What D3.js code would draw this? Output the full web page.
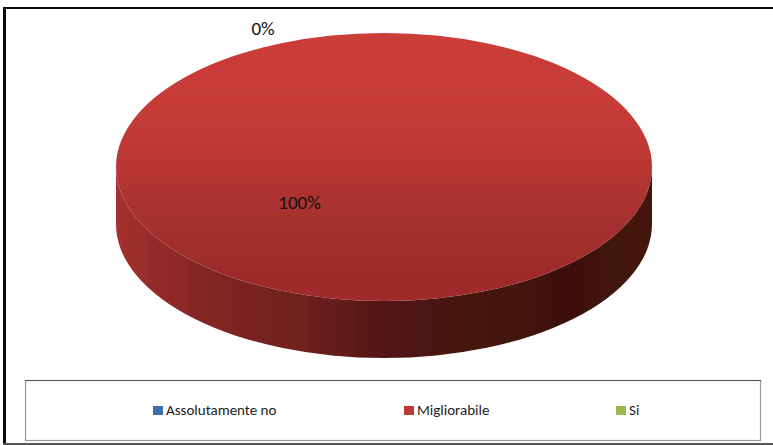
<!DOCTYPE html>
<html><head><meta charset="utf-8">
<script src="https://cdn.jsdelivr.net/npm/d3@7"></script>
<style>html,body{margin:0;padding:0;background:#fff}svg{display:block}</style></head>
<body><svg id="c" width="773" height="445"></svg>
<script>
const categories = ["Assolutamente no", "Migliorabile", "Si"];
const values = [0, 100, 0];
const percentLabels = ["0%", "100%"];
const swatchColors = ["#3a6fb0", "#be3a37", "#97b94e"];
const topStops = [[0,"#cb3c39"],[0.3,"#c53b38"],[0.44,"#bd3835"],[0.7,"#a5302e"],[0.92,"#9e2b29"],[1,"#9e2b29"]];
const sideStops = [[0,"#a5302d"],[0.1,"#8f2a27"],[0.2,"#7e2522"],[0.35,"#6f201d"],[0.5,"#531614"],[0.65,"#451310"],[0.85,"#3e110e"],[1,"#43130f"]];

const svg = d3.select("#c");
const cx = 384, cy = 167, rx = 268, ry = 134, depth = 57;
const defs = svg.append("defs");
const topGrad = defs.append("linearGradient").attr("id","topG").attr("x1",0).attr("x2",0).attr("y1",0).attr("y2",1);
topStops.forEach(s=>topGrad.append("stop").attr("offset",s[0]).attr("stop-color",s[1]));
const sideGrad = defs.append("linearGradient").attr("id","sideG").attr("x1",0).attr("x2",1).attr("y1",0).attr("y2",0);
sideStops.forEach(s=>sideGrad.append("stop").attr("offset",s[0]).attr("stop-color",s[1]));
defs.append("filter").attr("id","soft").attr("x","-5%").attr("y","-5%").attr("width","110%").attr("height","110%")
  .append("feGaussianBlur").attr("stdDeviation",0.5);

// outer frame
svg.append("rect").attr("x",3).attr("y",7).attr("width",3).attr("height",438).attr("fill","#0a0a0a");
svg.append("rect").attr("x",3).attr("y",7).attr("width",770).attr("height",2).attr("fill","#0a0a0a");
svg.append("rect").attr("x",3).attr("y",443).attr("width",770).attr("height",2).attr("fill","#555");

// pie driven by data
const pieData = d3.pie().sort(null).startAngle(0).endAngle(2*Math.PI).value(d=>d)(values);
const arc = d3.arc().innerRadius(0).outerRadius(1);
const g = svg.append("g").attr("filter","url(#soft)");
const side = `M${cx-rx},${cy}V${cy+depth}A${rx},${ry} 0 0 0 ${cx+rx},${cy+depth}V${cy}A${rx},${ry} 0 0 1 ${cx-rx},${cy}Z`;
g.append("path").attr("d",side).attr("fill","url(#sideG)");
g.selectAll("path.slice").data(pieData.filter(d=>d.value>0)).join("path").attr("class","slice")
 .attr("transform",`translate(${cx},${cy}) scale(${rx},${ry})`)
 .attr("d",arc).attr("fill","url(#topG)");

const font = "Carlito, Lato, 'Open Sans', sans-serif";
svg.append("text").attr("x",263).attr("y",35).attr("text-anchor","middle").attr("font-family",font).attr("font-size",19).attr("fill","#111").text(percentLabels[0]);
svg.append("text").attr("x",299.5).attr("y",209).attr("text-anchor","middle").attr("font-family",font).attr("font-size",19).attr("fill","#111").text(percentLabels[1]);

// legend
svg.append("rect").attr("x",25.5).attr("y",380.5).attr("width",735).attr("height",60).attr("fill","#fff").attr("stroke","#999").attr("stroke-width",1.2);
svg.append("line").attr("x1",25).attr("x2",761).attr("y1",380.5).attr("y2",380.5).attr("stroke","#555");
const legX = [153, 404, 616];
categories.forEach((c,i)=>{
  svg.append("rect").attr("x",legX[i]).attr("y",406).attr("width",10).attr("height",9).attr("fill",swatchColors[i]);
  svg.append("text").attr("x",legX[i]+13).attr("y",415).attr("font-family",font).attr("font-size",15).attr("fill","#222").text(c);
});
</script></body></html>
